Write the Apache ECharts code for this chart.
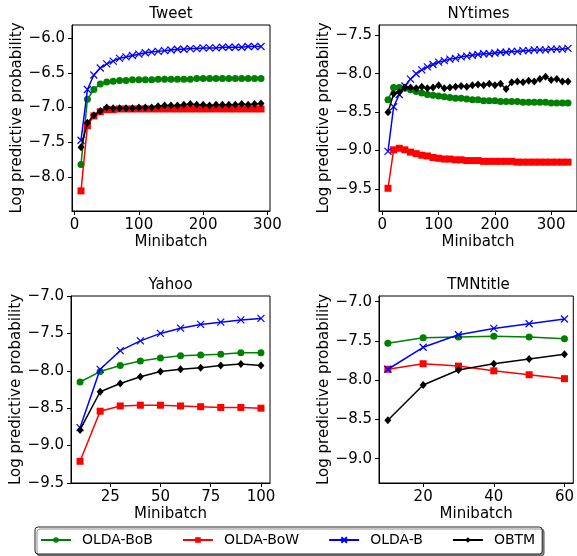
<!DOCTYPE html>
<html><head><meta charset="utf-8">
<script src="https://cdn.jsdelivr.net/npm/echarts@6/dist/echarts.min.js"></script>
<style>html,body{margin:0;padding:0;background:#fff}#c{width:577px;height:556px}</style>
</head><body><div id="c"></div>
<script>
const seriesNames = ['OLDA-BoB', 'OLDA-BoW', 'OLDA-B', 'OBTM'];
const panelTitles = ['Tweet', 'NYtimes', 'Yahoo', 'TMNtitle'];

const tweetX = [10,20,30,40,50,60,70,80,90,100,110,120,130,140,150,160,170,180,190,200,210,220,230,240,250,260,270,280,290];
const tweetBoB = [-7.82,-6.88,-6.74,-6.66,-6.63,-6.62,-6.61,-6.61,-6.60,-6.60,-6.60,-6.60,-6.59,-6.59,-6.59,-6.59,-6.59,-6.59,-6.58,-6.58,-6.58,-6.58,-6.58,-6.58,-6.58,-6.58,-6.58,-6.58,-6.58];
const tweetBoW = [-8.20,-7.26,-7.12,-7.06,-7.03,-7.03,-7.02,-7.02,-7.02,-7.02,-7.02,-7.02,-7.02,-7.02,-7.02,-7.02,-7.02,-7.02,-7.02,-7.02,-7.02,-7.02,-7.02,-7.02,-7.02,-7.02,-7.02,-7.02,-7.02];
const tweetB = [-7.47,-6.74,-6.53,-6.43,-6.37,-6.33,-6.29,-6.27,-6.25,-6.23,-6.21,-6.20,-6.19,-6.18,-6.17,-6.16,-6.16,-6.15,-6.15,-6.14,-6.14,-6.14,-6.13,-6.13,-6.13,-6.13,-6.12,-6.12,-6.12];
const tweetOBTM = [-7.57,-7.22,-7.11,-7.05,-7.00,-7.01,-7.01,-7.01,-7.01,-7.00,-7.00,-7.00,-6.98,-6.97,-6.97,-6.97,-6.96,-6.95,-6.96,-6.96,-6.97,-6.96,-6.96,-6.96,-6.96,-6.95,-6.96,-6.95,-6.94];

const nytX = [10,20,30,40,50,60,70,80,90,100,110,120,130,140,150,160,170,180,190,200,210,220,230,240,250,260,270,280,290,300,310,320,330];
const nytBoB = [-8.34,-8.18,-8.18,-8.19,-8.21,-8.23,-8.25,-8.27,-8.28,-8.29,-8.30,-8.31,-8.32,-8.32,-8.33,-8.34,-8.34,-8.35,-8.35,-8.35,-8.36,-8.36,-8.36,-8.36,-8.37,-8.37,-8.37,-8.37,-8.37,-8.38,-8.38,-8.38,-8.38];
const nytBoW = [-9.49,-8.99,-8.97,-8.99,-9.02,-9.04,-9.06,-9.07,-9.09,-9.10,-9.11,-9.11,-9.12,-9.12,-9.13,-9.13,-9.13,-9.14,-9.14,-9.14,-9.14,-9.14,-9.14,-9.15,-9.15,-9.15,-9.15,-9.15,-9.15,-9.15,-9.15,-9.15,-9.15];
const nytB = [-9.01,-8.43,-8.27,-8.16,-8.07,-8.00,-7.95,-7.91,-7.88,-7.85,-7.83,-7.81,-7.80,-7.78,-7.77,-7.76,-7.75,-7.74,-7.74,-7.73,-7.72,-7.72,-7.71,-7.71,-7.70,-7.70,-7.69,-7.69,-7.69,-7.68,-7.68,-7.68,-7.67];
const nytOBTM = [-8.50,-8.26,-8.24,-8.18,-8.18,-8.19,-8.17,-8.19,-8.18,-8.15,-8.19,-8.18,-8.17,-8.16,-8.17,-8.15,-8.14,-8.15,-8.13,-8.15,-8.13,-8.20,-8.11,-8.10,-8.11,-8.09,-8.10,-8.07,-8.04,-8.08,-8.07,-8.10,-8.10];

const yahooX = [10,20,30,40,50,60,70,80,90,100];
const yahooBoB = [-8.15,-8.01,-7.93,-7.87,-7.83,-7.80,-7.79,-7.78,-7.76,-7.76];
const yahooBoW = [-9.21,-8.54,-8.47,-8.46,-8.46,-8.47,-8.48,-8.49,-8.49,-8.50];
const yahooB = [-8.76,-7.98,-7.73,-7.60,-7.50,-7.43,-7.38,-7.35,-7.32,-7.30];
const yahooOBTM = [-8.79,-8.28,-8.17,-8.08,-8.01,-7.98,-7.96,-7.93,-7.91,-7.93];

const tmnX = [10,20,30,40,50,60];
const tmnBoB = [-7.53,-7.46,-7.45,-7.44,-7.45,-7.47];
const tmnBoW = [-7.86,-7.79,-7.82,-7.88,-7.93,-7.98];
const tmnB = [-7.86,-7.58,-7.42,-7.34,-7.28,-7.22];
const tmnOBTM = [-8.51,-8.06,-7.87,-7.79,-7.73,-7.67];

const tweetXTicks = [0,100,200,300];
const tweetYTicks = [-8.0,-7.5,-7.0,-6.5,-6.0];
const nytXTicks = [0,100,200,300];
const nytYTicks = [-9.5,-9.0,-8.5,-8.0,-7.5];
const yahooXTicks = [25,50,75,100];
const yahooYTicks = [-9.5,-9.0,-8.5,-8.0,-7.5,-7.0];
const tmnXTicks = [20,40,60];
const tmnYTicks = [-9.0,-8.5,-8.0,-7.5,-7.0];

const panels = [
  {x: tweetX, ys: [tweetBoB, tweetBoW, tweetB, tweetOBTM], xt: tweetXTicks, yt: tweetYTicks,
   xr: [-4, 304], yr: [-8.49, -5.81], grid: {left: 72, top: 25, width: 198, height: 186}},
  {x: nytX, ys: [nytBoB, nytBoW, nytB, nytOBTM], xt: nytXTicks, yt: nytYTicks,
   xr: [-6, 346], yr: [-9.786, -7.366], grid: {left: 379, top: 25, width: 199, height: 186}},
  {x: yahooX, ys: [yahooBoB, yahooBoW, yahooB, yahooOBTM], xt: yahooXTicks, yt: yahooYTicks,
   xr: [5.5, 104.5], yr: [-9.5, -7.0], grid: {left: 71, top: 296, width: 199, height: 187}},
  {x: tmnX, ys: [tmnBoB, tmnBoW, tmnB, tmnOBTM], xt: tmnXTicks, yt: tmnYTicks,
   xr: [7.5, 62.5], yr: [-9.309, -6.927], grid: {left: 379, top: 296, width: 199, height: 187}}
];

const FONT = 'DejaVu Sans';
const FS = 15;
const colors = ['#008000', '#ff0000', '#0000ff', '#000000'];
const symbols = ['circle', 'rect', 'path://M0,0L10,10M0,10L10,0', 'diamond'];
const symSizes = [7, 7, 7, [7, 8]];
const fmtY = v => Number(v).toFixed(1).replace('-', '\u2212');
const fmtX = v => String(v);

const grids = [], xAxes = [], yAxes = [], series = [], graphics = [];
panels.forEach((p, i) => {
  grids.push(Object.assign({show: true, borderColor: '#000', borderWidth: 1, backgroundColor: 'transparent'}, p.grid));
  xAxes.push({
    type: 'value', gridIndex: i, min: p.xr[0], max: p.xr[1],
    name: 'Minibatch', nameLocation: 'middle', nameGap: 24,
    nameTextStyle: {fontFamily: FONT, fontSize: FS, color: '#000'},
    axisLine: {show: true, onZero: false, lineStyle: {color: '#000', width: 1}},
    axisTick: {show: true, length: 4, lineStyle: {color: '#000'}, customValues: p.xt},
    axisLabel: {fontFamily: FONT, fontSize: FS, color: '#000', margin: 7, formatter: fmtX, customValues: p.xt},
    splitLine: {show: false}
  });
  yAxes.push({
    type: 'value', gridIndex: i, min: p.yr[0], max: p.yr[1],
    name: 'Log predictive probability', nameLocation: 'middle', nameGap: 47,
    nameTextStyle: {fontFamily: FONT, fontSize: FS, color: '#000'},
    axisLine: {show: true, onZero: false, lineStyle: {color: '#000', width: 1}},
    axisTick: {show: true, length: 4, lineStyle: {color: '#000'}, customValues: p.yt},
    axisLabel: {fontFamily: FONT, fontSize: FS, color: '#000', margin: 7, formatter: fmtY, customValues: p.yt},
    splitLine: {show: false}
  });
  p.ys.forEach((ys, k) => {
    series.push({
      type: 'line', name: seriesNames[k], xAxisIndex: i, yAxisIndex: i,
      data: p.x.map((xv, j) => [xv, ys[j]]),
      symbol: symbols[k], symbolSize: symSizes[k], showAllSymbol: true,
      lineStyle: {color: colors[k], width: 1.5},
      itemStyle: {color: colors[k], borderColor: colors[k], borderWidth: k === 2 ? 1.2 : 0},
      emphasis: {disabled: true}, clip: true, z: 2 + k
    });
  });
  const g = p.grid;
  graphics.push({
    type: 'text', x: g.left + g.width / 2, y: g.top - 11,
    style: {text: panelTitles[i], font: '15px "DejaVu Sans"', fill: '#000', textAlign: 'center', textVerticalAlign: 'middle'}
  });
});

const chart = echarts.init(document.getElementById('c'), null, {renderer: 'canvas'});
chart.setOption({
  animation: false,
  backgroundColor: '#fff',
  grid: grids, xAxis: xAxes, yAxis: yAxes, series: series,
  graphic: graphics,
  legend: {
    data: seriesNames, left: 35, top: 527,
    itemWidth: 30, itemHeight: 7, itemGap: 29,
    padding: [6, 7, 7, 5],
    backgroundColor: '#fff', borderColor: '#222', borderWidth: 1, borderRadius: 3,
    shadowColor: 'rgba(0,0,0,0.45)', shadowOffsetX: 2, shadowOffsetY: 2, shadowBlur: 0,
    textStyle: {fontFamily: FONT, fontSize: 14, color: '#000', padding: [0, 0, 0, 6]}
  }
});
</script></body></html>
